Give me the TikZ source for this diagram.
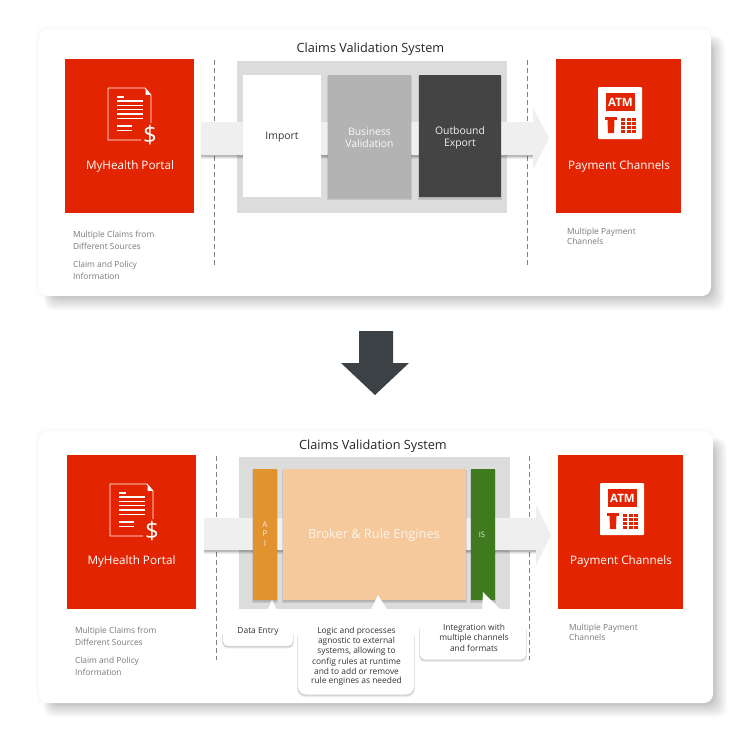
\documentclass[tikz,border=0pt]{standalone}
\usepackage{fontspec}
\setmainfont{Open Sans}
\usetikzlibrary{calc}
\definecolor{redb}{HTML}{E32400}
\definecolor{panelg}{HTML}{DCDCDC}
\definecolor{midg}{HTML}{B3B3B3}
\definecolor{darkg}{HTML}{444444}
\definecolor{arrg}{HTML}{EFEFEF}
\definecolor{labg}{HTML}{7A7A7A}
\definecolor{apio}{HTML}{E2922F}
\definecolor{brok}{HTML}{F5C99B}
\definecolor{isg}{HTML}{3F7A1F}
\definecolor{downa}{HTML}{3C4145}
\newcommand{\fsz}[1]{\fontsize{#1}{#1}\selectfont}
\newcommand{\softshadow}[4]{%
  \foreach \i in {0,...,3}{
    \fill[black,opacity=0.009,rounded corners=10pt]
      (#1-\i*1.2,#2-\i*1.2) rectangle (#3+\i*1.2,#4+\i*1.2);
  }
  \foreach \i in {0,...,11}{
    \fill[black,opacity=0.02,rounded corners=9pt]
      (#1+14-\i*.8,#2+16-\i*.8) rectangle (#3+\i*1.25,#4+\i*1.3);
  }}
\newcommand{\tinyshadow}[4]{%
  \foreach \i in {0,...,3}{
    \fill[black,opacity=0.05]
      (#1-\i*.3,#2+1) rectangle (#3+\i*.3,#4+1+\i*.8);
  }}
\newcommand{\barshadow}[3]{%
  \foreach \i in {0,...,4}{
    \fill[black,opacity=0.07] (#1,#3) rectangle (#2,#3+.8+\i*.8);
  }}
\tikzset{
  x=1pt,y=-1pt,
  every node/.style={inner sep=0pt,outer sep=0pt},
  card/.style={fill=white,rounded corners=9pt},
  redbox/.style={fill=redb,text=white,align=center},
  title/.style={text=black!85,font=\fsz{12.7}},
  smalllab/.style={text=labg,font=\fsz{8.4},align=left,anchor=north west},
  sep/.style={draw=black!50,line width=.6pt,dash pattern=on 5pt off 3pt},
  stage/.style={align=center,font=\fsz{10.4}},
  call/.style={fill=white,rounded corners=5pt},
  calltxt/.style={align=center,font=\fsz{8.4},text=black!80},
  iconline/.style={draw=white,line width=.9pt},
  portaltxt/.style={text=white,font=\fsz{11.7}},
}
\newcommand{\docicon}[2]{%
  \begin{scope}[shift={(#1,#2)}]
    \draw[iconline,line join=round] (33,52) -- (0,52) -- (0,0) -- (37,0) -- (43,7) -- (43,35);
    \fill[white] (37.5,0.5) -- (42.5,6.8) -- (37.5,6.8) -- cycle;
    \draw[white,line width=1.2pt] (9,9) -- (16,9);
    \foreach \yy in {13,17.3,21.6,25.9,30.2}{ \draw[white,line width=1.2pt] (9,\yy) -- (35,\yy); }
    \draw[white,line width=1.2pt] (9,38) -- (24,38);
    \draw[white,line width=1.2pt] (9,42.5) -- (24,42.5);
    \fill[redb] (42,47) circle (9);
    \node[text=white,font=\fsz{24}] (dollar#1) at (42,47) {\$};
  \end{scope}}
\newcommand{\atmicon}[2]{%
  \begin{scope}[shift={(#1,#2)}]
    \fill[white,rounded corners=1pt] (0,0) rectangle (44,52);
    \fill[redb] (8,6) rectangle (37,24);
    \node[text=white,font=\bfseries\fsz{11.5}] (atm#1) at (22.5,15) {ATM};
    \fill[redb] (7,30) rectangle (19,33);
    \fill[redb] (9.5,33) -- (16.5,33) -- (16,46) -- (10,46) -- cycle;
    \foreach \a in {23,28.5,34}{\foreach \b in {31,35,39,43}{\fill[redb] (\a,\b) rectangle +(4,2.8);}}
  \end{scope}}
\begin{document}
\begin{tikzpicture}
\useasboundingbox (0,0) rectangle (750,745);
\fill[white] (0,0) rectangle (750,745);
%%%% TOP CARD
\softshadow{39}{29}{711}{296}
\fill[card] (39,29) rectangle (711,296);
\node[title] (t1) at (370.5,49.5) {Claims Validation System};
\fill[panelg] (237,61) rectangle (507,213);
\draw[sep] (214,60) -- (214,266);
\draw[sep] (527,60) -- (527,266);
\barshadow{201}{533}{155}
\fill[arrg] (201,122) -- (533,122) -- (533,108) -- (549,138) -- (533,170) -- (533,155) -- (201,155) -- cycle;
\node[redbox,minimum width=129pt,minimum height=154pt] (portal1) at (129.5,136) {};
\docicon{108}{88}
\node[portaltxt] (portal1t) at (130,166) {MyHealth Portal};
\node[redbox,minimum width=125pt,minimum height=154pt] (pay1) at (618.5,136) {};
\atmicon{598}{87}
\node[portaltxt] (pay1t) at (619,166) {Payment Channels};
\tinyshadow{328}{75}{411}{197}
\tinyshadow{419}{75}{501}{197}
\node[fill=white,minimum width=78pt,minimum height=122pt,stage,text=black!80] (imp) at (282,136) {};
\node[stage,text=black!80] (impt) at (282,137.5) {Import};
\node[fill=midg,minimum width=83pt,minimum height=122pt] (bus) at (369.5,136) {};
\node[stage,text=white!92!midg] (bust) at (369.5,137.5) {Business\\[2pt]Validation};
\node[fill=darkg,minimum width=82pt,minimum height=122pt] (out) at (460,136) {};
\node[stage,text=white!92!darkg] (outt) at (460,137.5) {Outbound\\[2pt]Export};
\node[smalllab] (l1a) at (73,231) {Multiple Claims from\\[2.8pt]Different Sources};
\node[smalllab] (l1b) at (73,261) {Claim and Policy\\[2.8pt]Information};
\node[smalllab] (l1c) at (567,228) {Multiple Payment\\[2pt]Channels};
%%%% DOWN ARROW
\fill[downa] (359,331) -- (393,331) -- (393,363) -- (409,363) -- (375,395) -- (341,363) -- (359,363) -- cycle;
%%%% BOTTOM CARD
\softshadow{39}{431}{713}{703}
\fill[card] (39,431) rectangle (713,703);
\node[title] (t2) at (373,446) {Claims Validation System};
\fill[panelg] (239,457) rectangle (510,609);
\draw[sep] (216,456) -- (216,660);
\draw[sep] (529,456) -- (529,660);
\barshadow{204}{536}{550}
\fill[arrg] (204,518) -- (536,518) -- (536,505) -- (551,535) -- (536,565) -- (536,550) -- (204,550) -- cycle;
\node[redbox,minimum width=129pt,minimum height=154pt] (portal2) at (131.5,532) {};
\docicon{110}{484}
\node[portaltxt] (portal2t) at (131.5,561) {MyHealth Portal};
\node[redbox,minimum width=125pt,minimum height=154pt] (pay2) at (620.5,532) {};
\atmicon{600}{483}
\node[portaltxt] (pay2t) at (621,561.5) {Payment Channels};
\tinyshadow{253}{469}{277}{600}
\tinyshadow{283}{469}{466}{600}
\tinyshadow{471}{469}{495}{600}
\node[fill=apio,minimum width=24pt,minimum height=131pt] (api) at (265,534.5) {};
\node[text=white!85!apio,font=\fsz{8},align=center] (apit) at (265,534) {A\\[1.5pt]P\\[1.5pt]I};
\node[fill=brok,minimum width=183pt,minimum height=131pt] (broker) at (374.5,534.5) {};
\node[text=white!80!brok,font=\fsz{12.8}] (brokert) at (374,535) {Broker \& Rule Engines};
\node[fill=isg,minimum width=24pt,minimum height=131pt] (is) at (483,534.5) {};
\node[text=white!85!isg,font=\fsz{7.5}] (ist) at (482,534.5) {IS};
\node[smalllab] (l2a) at (75,627) {Multiple Claims from\\[2.8pt]Different Sources};
\node[smalllab] (l2b) at (75,657) {Claim and Policy\\[2.8pt]Information};
\node[smalllab] (l2c) at (569,624) {Multiple Payment\\[2pt]Channels};
%%%% CALLOUTS
\foreach \i in {0,...,3}{
  \fill[black,opacity=.06,rounded corners=5pt] (223-\i*.3,630) rectangle (293+\i*.3,646.5+\i*.7);
  \fill[black,opacity=.06,rounded corners=8pt] (298-\i*.3,630) rectangle (414+\i*.3,695+\i*.7);
  \fill[black,opacity=.06,rounded corners=5pt] (420-\i*.3,625) rectangle (526+\i*.3,660+\i*.7);
}
\fill[call] (223,622) rectangle (293,646);
\fill[white] (262,623) -- (272,600) -- (283,623) -- cycle;
\fill[call,rounded corners=8pt] (298,620) rectangle (414,694.5);
\fill[white] (365,622) -- (378,595) -- (395,622) -- cycle;
\fill[call] (420,613) rectangle (526,659.5);
\fill[white] (482,615) -- (483,592) -- (506,615) -- cycle;
\node[calltxt] (c1) at (258,632) {Data Entry};
\node[calltxt] (c2) at (356.5,656.5) {Logic and processes\\[1.5pt]agnostic to external\\[1.5pt]systems, allowing to\\[1.5pt]config rules at runtime\\[1.5pt]and to add or remove\\[1.5pt]rule engines as needed};
\node[calltxt] (c3) at (474,637.5) {Integration with\\[1.5pt]multiple channels\\[1.5pt]and formats};
\end{tikzpicture}
\end{document}
